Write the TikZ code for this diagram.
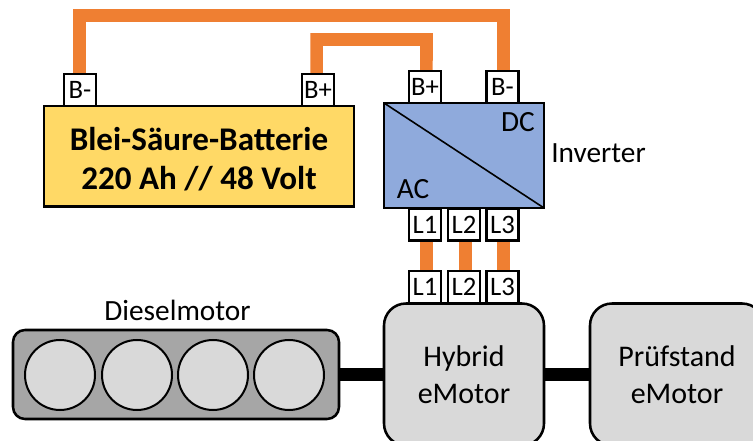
\documentclass[tikz,border=0pt]{standalone}
\usepackage{fontspec}
\setmainfont{Carlito}
\usetikzlibrary{backgrounds}
\definecolor{wire}{HTML}{EF7F32}
\definecolor{batt}{HTML}{FFD966}
\definecolor{inv}{HTML}{8FAADC}
\definecolor{light}{HTML}{D9D9D9}
\definecolor{mid}{HTML}{A6A6A6}
\tikzset{
  box/.style={draw=black,line width=1.9pt,inner sep=0pt,outer sep=0pt,align=center},
  terminal/.style={box,fill=white,minimum width=24pt,minimum height=24pt,font=\fontsize{20}{22}\selectfont},
  motor/.style={box,fill=light,rounded corners=16.5pt,minimum height=106.5pt,font=\fontsize{22.5}{27.75}\selectfont},
  cyl/.style={draw=black,line width=1.5pt,fill=light,circle,minimum size=52.5pt,inner sep=0pt,outer sep=0pt},
  label/.style={inner sep=0pt,font=\fontsize{22}{26}\selectfont},
  power/.style={wire,line width=9.4pt,line cap=butt},
  shaft/.style={black,line width=9.75pt},
}
\begin{document}
\begin{tikzpicture}[x=0.75pt,y=-0.75pt]
\useasboundingbox (0,0) rectangle (753,441);
\clip (0,0) rectangle (753,441);
% boxes
\node[box,fill=batt,minimum width=232.5pt,minimum height=75.4pt,font=\fontsize{24.8}{29}\selectfont\bfseries] (battery) at (199,156.3) {\rule{0pt}{21.5pt}Blei-Säure-Batterie\\220 Ah // 48 Volt};
\node[box,fill=inv,minimum width=120pt,minimum height=78.75pt] (inverter) at (464,155.5) {};
\draw[black,line width=1.2pt] (inverter.north west) -- (inverter.south east);
\node[label] (dc) at (518,122) {DC};
\node[label] (ac) at (413,189) {AC};
\node[label,anchor=west] (invlabel) at (551,153) {Inverter};
% battery terminals
\node[terminal] (bminus) at (80,90) {B-};
\node[terminal] (bplus) at (318,90) {B+};
% inverter DC terminals
\node[terminal] (iplus) at (425,87) {B+};
\node[terminal] (iminus) at (502.5,87) {B-};
% inverter AC terminals
\node[terminal] (ia) at (425,224.5) {L1};
\node[terminal] (ib) at (464,224.5) {L2};
\node[terminal] (ic) at (502.5,224.5) {L3};
% motors
\node[terminal] (ma) at (425,287) {L1};
\node[terminal] (mb) at (464,287) {L2};
\node[terminal] (mc) at (502.5,287) {L3};
\node[motor,minimum width=120pt] (hybrid) at (464,374.5) {Hybrid\\eMotor};
\node[motor,minimum width=130.5pt] (pruef) at (677,374.5) {Prüfstand\\eMotor};
% diesel engine
\node[box,fill=mid,rounded corners=9pt,minimum width=244.5pt,minimum height=66.75pt] (diesel) at (176,374.5) {};
\node[cyl] (c1) at (60,375) {};
\node[cyl] (c2) at (137,375) {};
\node[cyl] (c3) at (213,375) {};
\node[cyl] (c4) at (289,375) {};
\node[label] (diesellabel) at (177.5,310) {Dieselmotor};
% corners of the DC cables
\coordinate (outer) at (503.5,15.5);
\coordinate (inner) at (426.5,39.5);
\begin{scope}[on background layer]
  \draw[power] ([xshift=-0.4pt]bminus.north) |- (outer) -- ([xshift=0.75pt]iminus.north);
  \draw[power] ([xshift=-1.1pt]bplus.north) |- (inner) -- ([xshift=1.1pt]iplus.north);
  \draw[power] ([xshift=1.1pt]ia.south) -- ([xshift=1.1pt]ma.north);
  \draw[power] ([xshift=1.1pt]ib.south) -- ([xshift=1.1pt]mb.north);
  \draw[power] ([xshift=0.75pt]ic.south) -- ([xshift=0.75pt]mc.north);
  \draw[shaft] (diesel.east) -- (hybrid.west);
  \draw[shaft] (hybrid.east) -- (pruef.west);
\end{scope}
\end{tikzpicture}
\end{document}
